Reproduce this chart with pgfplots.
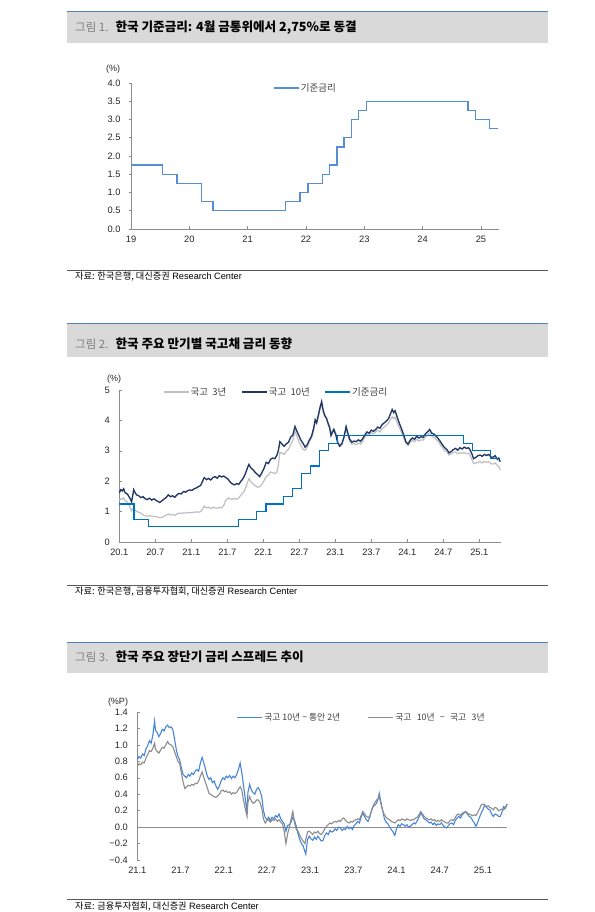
\documentclass[border=0pt]{standalone}
\usepackage{fontspec}
\setmainfont{Liberation Sans}
\newfontfamily\cjk{Noto Sans CJK KR}
\usepackage{pgfplots}
\pgfplotsset{compat=1.18}
\definecolor{barc}{HTML}{D9D9D9}
\definecolor{topline}{HTML}{4F81BD}
\definecolor{axgray}{HTML}{8C8C8C}
\definecolor{srcline}{HTML}{595959}
\definecolor{rateA}{HTML}{558ED5}
\definecolor{rateB}{HTML}{0070C0}
\definecolor{navy}{HTML}{1F3864}
\definecolor{lgray}{HTML}{BFBFBF}
\definecolor{spA}{HTML}{4A86D8}
\definecolor{spB}{HTML}{8C8C8C}
\definecolor{tgray}{HTML}{7F7F7F}
\definecolor{txt}{HTML}{262626}
\definecolor{legtxt}{HTML}{404040}
\newcommand{\wsp}{\hspace{0.45em}}

\pgfplotsset{
  panel/.style={
    scale only axis, axis lines*=left,
    axis line style={axgray, line width=0.6pt},
    tick style={axgray, line width=0.5pt},
    major tick length=2.5pt, tick align=inside,
    xtick pos=bottom, ytick pos=left,
    ticklabel style={font=\fontsize{9.3}{9.3}\selectfont, text=txt},
    /pgf/number format/assume math mode=true,
    yticklabel style={xshift=-6pt},
    xticklabel style={yshift=-3.5pt},
    clip=false,
    legend cell align=left,
    legend style={draw=none, fill=none, inner sep=0pt, outer sep=0pt,
      font=\fontsize{9.5}{9.5}\selectfont\cjk, text=legtxt,
      nodes={inner sep=1.5pt}},
  },
  lineleg/.style={legend image code/.code={\draw[##1] (0pt,0pt) -- (25pt,0pt);}},
}

\begin{document}
\begin{tikzpicture}
\path[use as bounding box, fill=white] (0pt,0pt) rectangle (594pt,912pt);

% ---------------- Panel 1 ----------------
\fill[barc] (67pt,869pt) rectangle (548pt,900pt);
\draw[topline, line width=1pt] (67pt,900pt) -- (548pt,900pt);
\node[anchor=west, inner sep=0pt] at (75pt,884.5pt) {\cjk{\fontsize{11.5}{12}\selectfont\color{tgray}그림 1.}\hspace{7pt}{\fontsize{12.6}{13}\selectfont\bfseries 한국 기준금리: 4월 금통위에서 2,75\%로 동결}};
\draw[srcline, line width=0.8pt] (67pt,642pt) -- (548pt,642pt);
\node[anchor=west, inner sep=0pt] at (75pt,635pt) {\fontsize{9.2}{10}\selectfont{\cjk 자료: 한국은행, 대신증권} Research Center};
\node[font=\fontsize{9}{9}\selectfont, text=txt] at (113pt,843pt) {(\%)};

\begin{axis}[panel, lineleg, at={(131pt,683pt)}, anchor=south west,
  width=368pt, height=146pt,
  xmin=19, xmax=25.31, ymin=0, ymax=4,
  xtick={19,20,21,22,23,24,25},
  ytick={0,0.5,1,1.5,2,2.5,3,3.5,4},
  ytick style={xshift=-2.5pt},
  yticklabel style={xshift=-1pt, /pgf/number format/.cd, fixed, fixed zerofill, precision=1},
  legend style={at={(rel axis cs:0.386,0.966)}, anchor=west},
]
\addplot[rateA, line width=1.3pt, const plot] coordinates {
(19.00,1.75) (19.545,1.50) (19.79,1.25) (20.205,0.75) (20.405,0.50)
(21.65,0.75) (21.90,1.00) (22.037,1.25) (22.285,1.50) (22.40,1.75)
(22.53,2.25) (22.65,2.50) (22.78,3.00) (22.90,3.25) (23.035,3.50)
(24.78,3.25) (24.91,3.00) (25.15,2.75) (25.30,2.75)};
\addlegendentry{기준금리}
\end{axis}

% ---------------- Panel 2 ----------------
\fill[barc] (67pt,555pt) rectangle (548pt,588pt);
\draw[topline, line width=1pt] (67pt,588pt) -- (548pt,588pt);
\node[anchor=west, inner sep=0pt] at (75pt,568.5pt) {\cjk{\fontsize{11.5}{12}\selectfont\color{tgray}그림 2.}\hspace{7pt}{\fontsize{12.6}{13}\selectfont\bfseries 한국 주요 만기별 국고채 금리 동향}};
\draw[srcline, line width=0.8pt] (67pt,327pt) -- (548pt,327pt);
\node[anchor=west, inner sep=0pt] at (75pt,320pt) {\fontsize{9.2}{10}\selectfont{\cjk 자료: 한국은행, 금융투자협회, 대신증권} Research Center};
\node[font=\fontsize{9}{9}\selectfont, text=txt] at (114pt,533pt) {(\%)};

\begin{axis}[panel, lineleg, at={(119.3pt,370pt)}, anchor=south west,
  width=381.4pt, height=152pt,
  xmin=2020, xmax=2025.297, ymin=0, ymax=5,
  xtick={2020,2020.5,2021,2021.5,2022,2022.5,2023,2023.5,2024,2024.5,2025},
  xticklabels={20.1,20.7,21.1,21.7,22.1,22.7,23.1,23.7,24.1,24.7,25.1},
  ytick={0,1,2,3,4,5},
  legend columns=3,
  legend style={at={(rel axis cs:0.1146,0.987)}, anchor=west,
    /tikz/every even column/.append style={column sep=13pt}},
]
\addplot[lgray, line width=1.2pt] coordinates {
(2020.00,1.38) (2020.02,1.42) (2020.04,1.40) (2020.06,1.45) (2020.08,1.36) (2020.10,1.35)
(2020.12,1.28) (2020.14,1.18) (2020.16,1.08) (2020.17,1.02) (2020.19,1.10) (2020.20,1.12)
(2020.22,1.05) (2020.24,1.00) (2020.27,0.98) (2020.30,0.95) (2020.33,0.89) (2020.36,0.86)
(2020.39,0.85) (2020.42,0.87) (2020.45,0.85) (2020.48,0.84) (2020.51,0.83) (2020.54,0.82)
(2020.56,0.80) (2020.59,0.81) (2020.62,0.84) (2020.65,0.88) (2020.68,0.92) (2020.71,0.89)
(2020.74,0.90) (2020.77,0.88) (2020.80,0.92) (2020.83,0.95) (2020.86,0.94) (2020.89,0.96)
(2020.92,0.95) (2020.95,0.97) (2020.98,0.96) (2021.01,0.97) (2021.04,0.98) (2021.07,0.99)
(2021.10,0.98) (2021.13,1.00) (2021.16,1.10) (2021.18,1.18) (2021.21,1.12) (2021.24,1.15)
(2021.27,1.10) (2021.30,1.14) (2021.33,1.12) (2021.36,1.11) (2021.39,1.14) (2021.42,1.12)
(2021.45,1.20) (2021.48,1.38) (2021.51,1.45) (2021.54,1.42) (2021.57,1.40) (2021.60,1.44)
(2021.63,1.40) (2021.66,1.45) (2021.69,1.55) (2021.72,1.62) (2021.75,1.75) (2021.78,1.95)
(2021.80,2.08) (2021.83,1.98) (2021.86,1.90) (2021.89,1.85) (2021.92,1.80) (2021.95,1.82)
(2021.98,1.90) (2022.01,2.02) (2022.04,2.15) (2022.07,2.20) (2022.10,2.30) (2022.13,2.28)
(2022.16,2.25) (2022.19,2.30) (2022.21,2.55) (2022.23,2.95) (2022.26,2.92) (2022.29,2.88)
(2022.32,2.98) (2022.35,3.05) (2022.38,3.20) (2022.41,3.35) (2022.44,3.65) (2022.46,3.52)
(2022.49,3.32) (2022.52,3.18) (2022.55,3.05) (2022.58,3.02) (2022.61,3.12) (2022.64,3.30)
(2022.67,3.42) (2022.70,3.70) (2022.72,3.98) (2022.74,3.90) (2022.77,4.18) (2022.79,4.40)
(2022.81,4.52) (2022.83,4.30) (2022.85,4.15) (2022.88,4.08) (2022.90,3.88) (2022.92,3.76)
(2022.94,3.58) (2022.96,3.68) (2022.98,3.72) (2023.01,3.55) (2023.03,3.35) (2023.06,3.20)
(2023.09,3.25) (2023.12,3.42) (2023.15,3.72) (2023.17,3.55) (2023.20,3.30) (2023.23,3.22)
(2023.26,3.24) (2023.29,3.20) (2023.32,3.25) (2023.35,3.22) (2023.38,3.32) (2023.41,3.45)
(2023.44,3.55) (2023.47,3.52) (2023.50,3.60) (2023.53,3.56) (2023.56,3.62) (2023.59,3.68)
(2023.62,3.62) (2023.65,3.72) (2023.68,3.78) (2023.71,3.84) (2023.74,3.92) (2023.77,4.04)
(2023.79,4.12) (2023.81,4.06) (2023.83,4.10) (2023.86,3.92) (2023.89,3.76) (2023.92,3.60)
(2023.95,3.42) (2023.98,3.24) (2024.01,3.18) (2024.04,3.28) (2024.07,3.34) (2024.10,3.30)
(2024.13,3.38) (2024.16,3.32) (2024.19,3.36) (2024.22,3.35) (2024.25,3.45) (2024.28,3.52)
(2024.31,3.58) (2024.34,3.48) (2024.37,3.44) (2024.40,3.38) (2024.43,3.30) (2024.46,3.20)
(2024.49,3.10) (2024.52,3.00) (2024.55,2.96) (2024.58,2.86) (2024.61,2.90) (2024.64,2.95)
(2024.67,2.96) (2024.70,2.90) (2024.73,2.94) (2024.76,2.92) (2024.79,2.94) (2024.82,2.90)
(2024.85,2.92) (2024.87,2.86) (2024.90,2.70) (2024.92,2.58) (2024.95,2.60) (2024.98,2.62)
(2025.01,2.64) (2025.04,2.60) (2025.07,2.65) (2025.10,2.62) (2025.13,2.64) (2025.16,2.58)
(2025.19,2.56) (2025.22,2.60) (2025.25,2.52) (2025.27,2.48) (2025.29,2.37)};
\addlegendentry{국고\wsp3년}
\addplot[navy, line width=1.35pt] coordinates {
(2020.00,1.62) (2020.02,1.72) (2020.04,1.68) (2020.06,1.75) (2020.08,1.62) (2020.10,1.60)
(2020.12,1.55) (2020.14,1.47) (2020.16,1.38) (2020.17,1.32) (2020.19,1.58) (2020.20,1.72)
(2020.22,1.62) (2020.24,1.55) (2020.27,1.52) (2020.30,1.46) (2020.33,1.49) (2020.36,1.42)
(2020.39,1.40) (2020.42,1.44) (2020.45,1.38) (2020.48,1.42) (2020.51,1.37) (2020.54,1.33)
(2020.56,1.30) (2020.59,1.35) (2020.62,1.41) (2020.65,1.46) (2020.68,1.55) (2020.71,1.49)
(2020.74,1.52) (2020.77,1.47) (2020.80,1.55) (2020.83,1.60) (2020.86,1.58) (2020.89,1.66)
(2020.92,1.64) (2020.95,1.69) (2020.98,1.71) (2021.01,1.70) (2021.04,1.75) (2021.07,1.78)
(2021.10,1.82) (2021.13,1.86) (2021.16,2.02) (2021.18,2.12) (2021.21,2.05) (2021.24,2.09)
(2021.27,2.04) (2021.30,2.12) (2021.33,2.15) (2021.36,2.10) (2021.39,2.18) (2021.42,2.14)
(2021.45,2.17) (2021.48,2.12) (2021.51,2.07) (2021.54,1.97) (2021.57,1.91) (2021.60,1.88)
(2021.63,1.92) (2021.66,1.90) (2021.69,2.00) (2021.72,2.09) (2021.75,2.24) (2021.78,2.44)
(2021.80,2.55) (2021.83,2.43) (2021.86,2.37) (2021.89,2.28) (2021.92,2.22) (2021.95,2.15)
(2021.98,2.28) (2022.01,2.42) (2022.04,2.62) (2022.07,2.58) (2022.10,2.72) (2022.13,2.76)
(2022.16,2.74) (2022.19,2.86) (2022.21,3.02) (2022.23,3.30) (2022.26,3.22) (2022.29,3.15)
(2022.32,3.23) (2022.35,3.28) (2022.38,3.45) (2022.41,3.52) (2022.44,3.80) (2022.46,3.68)
(2022.49,3.52) (2022.52,3.36) (2022.55,3.25) (2022.58,3.12) (2022.61,3.20) (2022.64,3.36)
(2022.67,3.48) (2022.70,3.75) (2022.72,4.02) (2022.74,3.92) (2022.77,4.23) (2022.79,4.45)
(2022.81,4.62) (2022.83,4.35) (2022.85,4.18) (2022.88,4.05) (2022.90,3.90) (2022.92,3.78)
(2022.94,3.50) (2022.96,3.60) (2022.98,3.70) (2023.01,3.50) (2023.03,3.28) (2023.06,3.15)
(2023.09,3.22) (2023.12,3.45) (2023.15,3.80) (2023.17,3.62) (2023.20,3.38) (2023.23,3.28)
(2023.26,3.32) (2023.29,3.30) (2023.32,3.36) (2023.35,3.31) (2023.38,3.40) (2023.41,3.52)
(2023.44,3.62) (2023.47,3.58) (2023.50,3.68) (2023.53,3.64) (2023.56,3.70) (2023.59,3.78)
(2023.62,3.74) (2023.65,3.86) (2023.68,3.92) (2023.71,3.98) (2023.74,4.06) (2023.77,4.24)
(2023.79,4.36) (2023.81,4.26) (2023.83,4.32) (2023.86,4.10) (2023.89,3.90) (2023.92,3.72)
(2023.95,3.52) (2023.98,3.30) (2024.01,3.22) (2024.04,3.35) (2024.07,3.42) (2024.10,3.38)
(2024.13,3.48) (2024.16,3.42) (2024.19,3.46) (2024.22,3.44) (2024.25,3.55) (2024.28,3.62)
(2024.31,3.70) (2024.34,3.58) (2024.37,3.55) (2024.40,3.48) (2024.43,3.40) (2024.46,3.30)
(2024.49,3.19) (2024.52,3.10) (2024.55,3.04) (2024.58,2.93) (2024.61,2.98) (2024.64,3.04)
(2024.67,3.08) (2024.70,3.02) (2024.73,3.10) (2024.76,3.06) (2024.79,3.12) (2024.82,3.08)
(2024.85,3.10) (2024.87,3.04) (2024.90,2.88) (2024.92,2.74) (2024.95,2.78) (2024.98,2.84)
(2025.01,2.86) (2025.04,2.82) (2025.07,2.88) (2025.10,2.85) (2025.13,2.88) (2025.16,2.80)
(2025.19,2.78) (2025.22,2.84) (2025.25,2.72) (2025.27,2.76) (2025.29,2.64)};
\addlegendentry{국고\wsp10년}
\addplot[rateB, line width=1.2pt, const plot] coordinates {
(2020.00,1.25) (2020.205,0.75) (2020.405,0.50)
(2021.65,0.75) (2021.90,1.00) (2022.037,1.25) (2022.285,1.50) (2022.40,1.75)
(2022.53,2.25) (2022.65,2.50) (2022.78,3.00) (2022.90,3.25) (2023.035,3.50)
(2024.78,3.25) (2024.91,3.00) (2025.15,2.75) (2025.29,2.75)};
\addlegendentry{기준금리}
\end{axis}

% ---------------- Panel 3 ----------------
\fill[barc] (67pt,239pt) rectangle (548pt,269pt);
\draw[topline, line width=1pt] (67pt,269pt) -- (548pt,269pt);
\node[anchor=west, inner sep=0pt] at (75pt,255pt) {\cjk{\fontsize{11.5}{12}\selectfont\color{tgray}그림 3.}\hspace{7pt}{\fontsize{12.6}{13}\selectfont\bfseries 한국 주요 장단기 금리 스프레드 추이}};
\draw[srcline, line width=0.8pt] (67pt,13pt) -- (548pt,13pt);
\node[anchor=west, inner sep=0pt] at (75pt,5.5pt) {\fontsize{9.2}{10}\selectfont{\cjk 자료: 금융투자협회, 대신증권} Research Center};
\node[font=\fontsize{9}{9}\selectfont, text=txt] at (118pt,210pt) {(\%P)};

\begin{axis}[panel, lineleg, at={(137.3pt,52pt)}, anchor=south west,
  width=369.4pt, height=148pt,
  xmin=2021, xmax=2025.275, ymin=-0.4, ymax=1.4,
  axis x line*=bottom, x axis line style={draw=none},
  xtick={2021,2021.5,2022,2022.5,2023,2023.5,2024,2024.5,2025},
  xticklabels={21.1,21.7,22.1,22.7,23.1,23.7,24.1,24.7,25.1},
  xtick style={draw=none},
  ytick={-0.4,-0.2,0,0.2,0.4,0.6,0.8,1.0,1.2,1.4},
  yticklabels={−0.4,−0.2,0.0,0.2,0.4,0.6,0.8,1.0,1.2,1.4},
  extra y ticks={0}, extra y tick labels={},
  extra y tick style={grid=major, major grid style={axgray, line width=0.6pt}},
  legend columns=2,
  legend style={at={(rel axis cs:0.269,0.961)}, anchor=west,
    font=\fontsize{8.8}{8.8}\selectfont\cjk,
    /tikz/every even column/.append style={column sep=26pt}},
]
\addplot[spA, line width=1.1pt] coordinates {
(2021.00,0.82) (2021.02,0.86) (2021.04,0.84) (2021.06,0.89) (2021.08,0.87) (2021.10,0.95)
(2021.12,0.99) (2021.14,1.05) (2021.16,1.02) (2021.18,1.12) (2021.20,1.29) (2021.21,1.18)
(2021.23,1.15) (2021.25,1.10) (2021.27,1.14) (2021.29,1.19) (2021.31,1.17) (2021.33,1.22)
(2021.35,1.24) (2021.37,1.21) (2021.39,1.22) (2021.41,1.19) (2021.43,1.08) (2021.45,0.95)
(2021.47,0.86) (2021.49,0.82) (2021.51,0.72) (2021.53,0.64) (2021.55,0.62) (2021.57,0.60)
(2021.59,0.64) (2021.61,0.62) (2021.63,0.66) (2021.65,0.64) (2021.67,0.68) (2021.69,0.70)
(2021.71,0.68) (2021.73,0.78) (2021.75,0.85) (2021.77,0.78) (2021.79,0.70) (2021.81,0.62)
(2021.83,0.58) (2021.85,0.60) (2021.87,0.54) (2021.89,0.56) (2021.91,0.50) (2021.93,0.46)
(2021.95,0.50) (2021.97,0.56) (2021.99,0.60) (2022.01,0.58) (2022.03,0.62) (2022.05,0.60)
(2022.07,0.63) (2022.09,0.59) (2022.11,0.62) (2022.13,0.60) (2022.15,0.64) (2022.17,0.70)
(2022.19,0.78) (2022.21,0.66) (2022.23,0.50) (2022.25,0.34) (2022.27,0.18) (2022.28,0.42)
(2022.30,0.52) (2022.32,0.45) (2022.34,0.42) (2022.36,0.40) (2022.38,0.46) (2022.40,0.48)
(2022.42,0.44) (2022.44,0.37) (2022.46,0.20) (2022.48,0.12) (2022.50,0.09) (2022.52,0.12)
(2022.54,0.08) (2022.56,0.12) (2022.58,0.10) (2022.60,0.14) (2022.62,0.12) (2022.64,0.16)
(2022.66,0.10) (2022.68,0.07) (2022.70,0.04) (2022.72,-0.05) (2022.74,0.02) (2022.76,0.03)
(2022.78,0.06) (2022.80,0.12) (2022.82,0.08) (2022.84,0.01) (2022.86,-0.08) (2022.88,-0.15)
(2022.90,-0.20) (2022.92,-0.23) (2022.94,-0.30) (2022.95,-0.33) (2022.97,-0.15) (2022.99,-0.11)
(2023.01,-0.14) (2023.03,-0.16) (2023.05,-0.12) (2023.07,-0.15) (2023.09,-0.11) (2023.11,-0.14)
(2023.13,-0.17) (2023.15,-0.16) (2023.17,-0.10) (2023.19,-0.07) (2023.21,-0.09) (2023.23,-0.04)
(2023.25,-0.06) (2023.27,-0.05) (2023.29,-0.02) (2023.31,-0.04) (2023.33,0.00) (2023.35,-0.01)
(2023.37,-0.04) (2023.39,-0.02) (2023.41,-0.03) (2023.43,0.01) (2023.45,-0.02) (2023.47,0.00)
(2023.49,-0.03) (2023.51,0.02) (2023.53,0.04) (2023.55,0.07) (2023.57,0.05) (2023.59,0.12)
(2023.61,0.17) (2023.63,0.13) (2023.65,0.09) (2023.67,0.07) (2023.69,0.12) (2023.71,0.20)
(2023.73,0.25) (2023.75,0.27) (2023.77,0.29) (2023.79,0.36) (2023.80,0.41) (2023.82,0.30)
(2023.84,0.20) (2023.86,0.10) (2023.88,0.06) (2023.90,0.04) (2023.92,0.00) (2023.94,-0.03)
(2023.96,-0.06) (2023.98,-0.10) (2024.00,-0.02) (2024.02,0.03) (2024.04,0.01) (2024.06,0.04)
(2024.08,0.03) (2024.10,0.01) (2024.12,0.03) (2024.14,0.00) (2024.16,0.01) (2024.18,0.03)
(2024.20,0.05) (2024.22,0.04) (2024.24,0.08) (2024.26,0.12) (2024.28,0.17) (2024.30,0.14)
(2024.32,0.10) (2024.34,0.09) (2024.36,0.07) (2024.38,0.05) (2024.40,0.06) (2024.42,0.03)
(2024.44,0.05) (2024.46,0.02) (2024.48,0.04) (2024.50,0.03) (2024.52,0.05) (2024.54,0.02)
(2024.56,0.00) (2024.58,-0.01) (2024.60,0.02) (2024.62,0.04) (2024.64,0.05) (2024.66,0.03)
(2024.68,0.08) (2024.70,0.11) (2024.72,0.13) (2024.74,0.11) (2024.76,0.15) (2024.78,0.17)
(2024.80,0.19) (2024.82,0.16) (2024.84,0.13) (2024.86,0.12) (2024.88,0.08) (2024.90,0.05)
(2024.92,0.01) (2024.94,0.06) (2024.96,0.12) (2024.98,0.17) (2025.00,0.21) (2025.02,0.27)
(2025.04,0.24) (2025.06,0.22) (2025.08,0.21) (2025.10,0.16) (2025.12,0.13) (2025.14,0.16)
(2025.16,0.15) (2025.18,0.13) (2025.20,0.13) (2025.22,0.18) (2025.24,0.25) (2025.26,0.23)
(2025.28,0.28)};
\addlegendentry{국고 10년 − 통안 2년}
\addplot[spB, line width=1.1pt] coordinates {
(2021.00,0.74) (2021.02,0.77) (2021.04,0.76) (2021.06,0.79) (2021.08,0.78) (2021.10,0.84)
(2021.12,0.88) (2021.14,0.93) (2021.16,0.92) (2021.18,0.96) (2021.20,1.02) (2021.21,0.95)
(2021.23,0.92) (2021.25,0.90) (2021.27,0.94) (2021.29,0.97) (2021.31,0.96) (2021.33,1.00)
(2021.35,1.04) (2021.37,1.01) (2021.39,1.00) (2021.41,0.98) (2021.43,0.92) (2021.45,0.86)
(2021.47,0.80) (2021.49,0.78) (2021.51,0.66) (2021.53,0.55) (2021.55,0.47) (2021.57,0.49)
(2021.59,0.51) (2021.61,0.50) (2021.63,0.52) (2021.65,0.51) (2021.67,0.53) (2021.69,0.53)
(2021.71,0.56) (2021.73,0.62) (2021.75,0.67) (2021.77,0.60) (2021.79,0.54) (2021.81,0.48)
(2021.83,0.41) (2021.85,0.40) (2021.87,0.38) (2021.89,0.37) (2021.91,0.36) (2021.93,0.38)
(2021.95,0.40) (2021.97,0.44) (2021.99,0.45) (2022.01,0.43) (2022.03,0.44) (2022.05,0.42)
(2022.07,0.43) (2022.09,0.40) (2022.11,0.42) (2022.13,0.41) (2022.15,0.42) (2022.17,0.46)
(2022.19,0.49) (2022.21,0.45) (2022.23,0.32) (2022.25,0.22) (2022.27,0.13) (2022.28,0.30)
(2022.30,0.37) (2022.32,0.32) (2022.34,0.29) (2022.36,0.30) (2022.38,0.33) (2022.40,0.33)
(2022.42,0.30) (2022.44,0.23) (2022.46,0.10) (2022.48,0.05) (2022.50,0.08) (2022.52,0.09)
(2022.54,0.06) (2022.56,0.09) (2022.58,0.08) (2022.60,0.10) (2022.62,0.07) (2022.64,0.09)
(2022.66,0.06) (2022.68,0.04) (2022.70,-0.05) (2022.72,-0.20) (2022.74,-0.08) (2022.76,0.00)
(2022.78,0.10) (2022.80,0.19) (2022.82,0.05) (2022.84,-0.03) (2022.86,-0.05) (2022.88,-0.10)
(2022.90,-0.14) (2022.92,-0.17) (2022.94,-0.20) (2022.95,-0.15) (2022.97,-0.06) (2022.99,-0.05)
(2023.01,-0.07) (2023.03,-0.09) (2023.05,-0.06) (2023.07,-0.07) (2023.09,-0.05) (2023.11,-0.08)
(2023.13,-0.09) (2023.15,-0.06) (2023.17,-0.02) (2023.19,0.01) (2023.21,0.03) (2023.23,0.05)
(2023.25,0.04) (2023.27,0.06) (2023.29,0.07) (2023.31,0.06) (2023.33,0.08) (2023.35,0.07)
(2023.37,0.10) (2023.39,0.11) (2023.41,0.08) (2023.43,0.06) (2023.45,0.05) (2023.47,0.07)
(2023.49,0.06) (2023.51,0.08) (2023.53,0.09) (2023.55,0.10) (2023.57,0.09) (2023.59,0.14)
(2023.61,0.19) (2023.63,0.16) (2023.65,0.13) (2023.67,0.12) (2023.69,0.13) (2023.71,0.20)
(2023.73,0.26) (2023.75,0.30) (2023.77,0.33) (2023.79,0.35) (2023.80,0.37) (2023.82,0.28)
(2023.84,0.20) (2023.86,0.15) (2023.88,0.12) (2023.90,0.10) (2023.92,0.09) (2023.94,0.07)
(2023.96,0.06) (2023.98,0.05) (2024.00,0.07) (2024.02,0.09) (2024.04,0.08) (2024.06,0.10)
(2024.08,0.09) (2024.10,0.08) (2024.12,0.10) (2024.14,0.09) (2024.16,0.08) (2024.18,0.09)
(2024.20,0.09) (2024.22,0.11) (2024.24,0.12) (2024.26,0.15) (2024.28,0.19) (2024.30,0.16)
(2024.32,0.13) (2024.34,0.11) (2024.36,0.10) (2024.38,0.09) (2024.40,0.10) (2024.42,0.08)
(2024.44,0.09) (2024.46,0.07) (2024.48,0.08) (2024.50,0.07) (2024.52,0.09) (2024.54,0.07)
(2024.56,0.06) (2024.58,0.05) (2024.60,0.05) (2024.62,0.08) (2024.64,0.09) (2024.66,0.08)
(2024.68,0.12) (2024.70,0.15) (2024.72,0.16) (2024.74,0.14) (2024.76,0.17) (2024.78,0.18)
(2024.80,0.19) (2024.82,0.17) (2024.84,0.16) (2024.86,0.15) (2024.88,0.14) (2024.90,0.15)
(2024.92,0.14) (2024.94,0.18) (2024.96,0.22) (2024.98,0.27) (2025.00,0.28) (2025.02,0.27)
(2025.04,0.25) (2025.06,0.26) (2025.08,0.24) (2025.10,0.23) (2025.12,0.21) (2025.14,0.24)
(2025.16,0.23) (2025.18,0.20) (2025.20,0.21) (2025.22,0.22) (2025.24,0.21) (2025.26,0.24)
(2025.28,0.28)};
\addlegendentry{국고\hspace{0.6em}10년\hspace{0.6em}−\hspace{0.6em}국고\hspace{0.6em}3년}
\end{axis}
\end{tikzpicture}
\end{document}
